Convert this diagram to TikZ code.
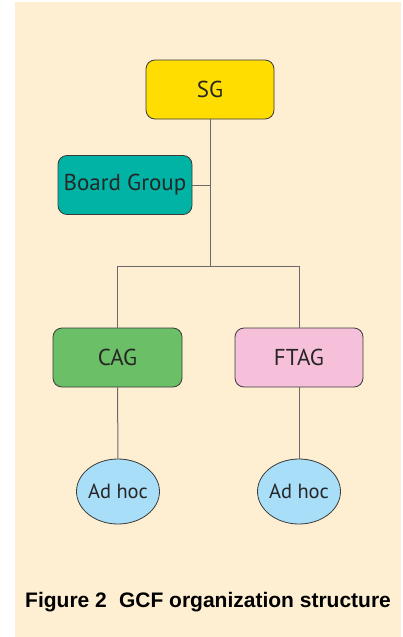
\documentclass[tikz,border=0pt]{standalone}
\usepackage{fontspec}
\setmainfont{PT Sans}
\newfontfamily\capfont{Liberation Sans}
\usetikzlibrary{shapes.geometric}
\definecolor{bgc}{HTML}{FEEFD2}
\definecolor{sgc}{HTML}{FFDD00}
\definecolor{bgroup}{HTML}{00B3A4}
\definecolor{cagc}{HTML}{6BBF67}
\definecolor{ftagc}{HTML}{F6C0DA}
\definecolor{adhocc}{HTML}{A9DEF9}
\definecolor{edgec}{HTML}{3A3A3A}
\definecolor{linec}{HTML}{6A6A6A}
\begin{document}
\begin{tikzpicture}[x=1pt,y=-1pt,
  box/.style={draw=edgec,line width=0.8pt,rounded corners=9pt,minimum width=#1,minimum height=59pt,inner sep=0pt,font=\fontsize{23}{26}\selectfont,text=black!85},
  box/.default=128pt,
  adhoc/.style={ellipse,draw=edgec,line width=0.8pt,fill=adhocc,minimum width=83pt,minimum height=65pt,inner sep=0pt,font=\fontsize{20.5}{24}\selectfont,text=black!85},
  link/.style={draw=linec,line width=1pt}]
\useasboundingbox (0,0) rectangle (402,637);
\fill[bgc] (15,2) rectangle (401,637);
\node[box,fill=sgc] (sg) at (210,89.5) {SG};
\node[box=134pt,fill=bgroup] (bg) at (125,185) {Board Group};
\node[box=129pt,fill=cagc] (cag) at (117.5,357.5) {CAG};
\node[box,fill=ftagc] (ftag) at (299,357.5) {FTAG};
\node[adhoc] (a1) at (118,491.5) {\makebox[0pt]{Ad hoc}};
\node[adhoc] (a2) at (299,491.5) {\makebox[0pt]{Ad hoc}};
\coordinate (split) at (210,266.7);
\draw[link] (sg.south) -- (split);
\draw[link] (bg.east) -- (bg.east -| sg.south);
\draw[link] (split) -| (cag.north);
\draw[link] (split) -| (ftag.north);
\draw[link] (cag.south) -- (a1.north);
\draw[link] (ftag.south) -- (a2.north);
\node[font=\capfont\bfseries\fontsize{21}{24}\selectfont,anchor=west,inner sep=0pt] (cap) at (25,602) {Figure 2\hspace{0.3em} GCF organization structure};
\end{tikzpicture}
\end{document}
